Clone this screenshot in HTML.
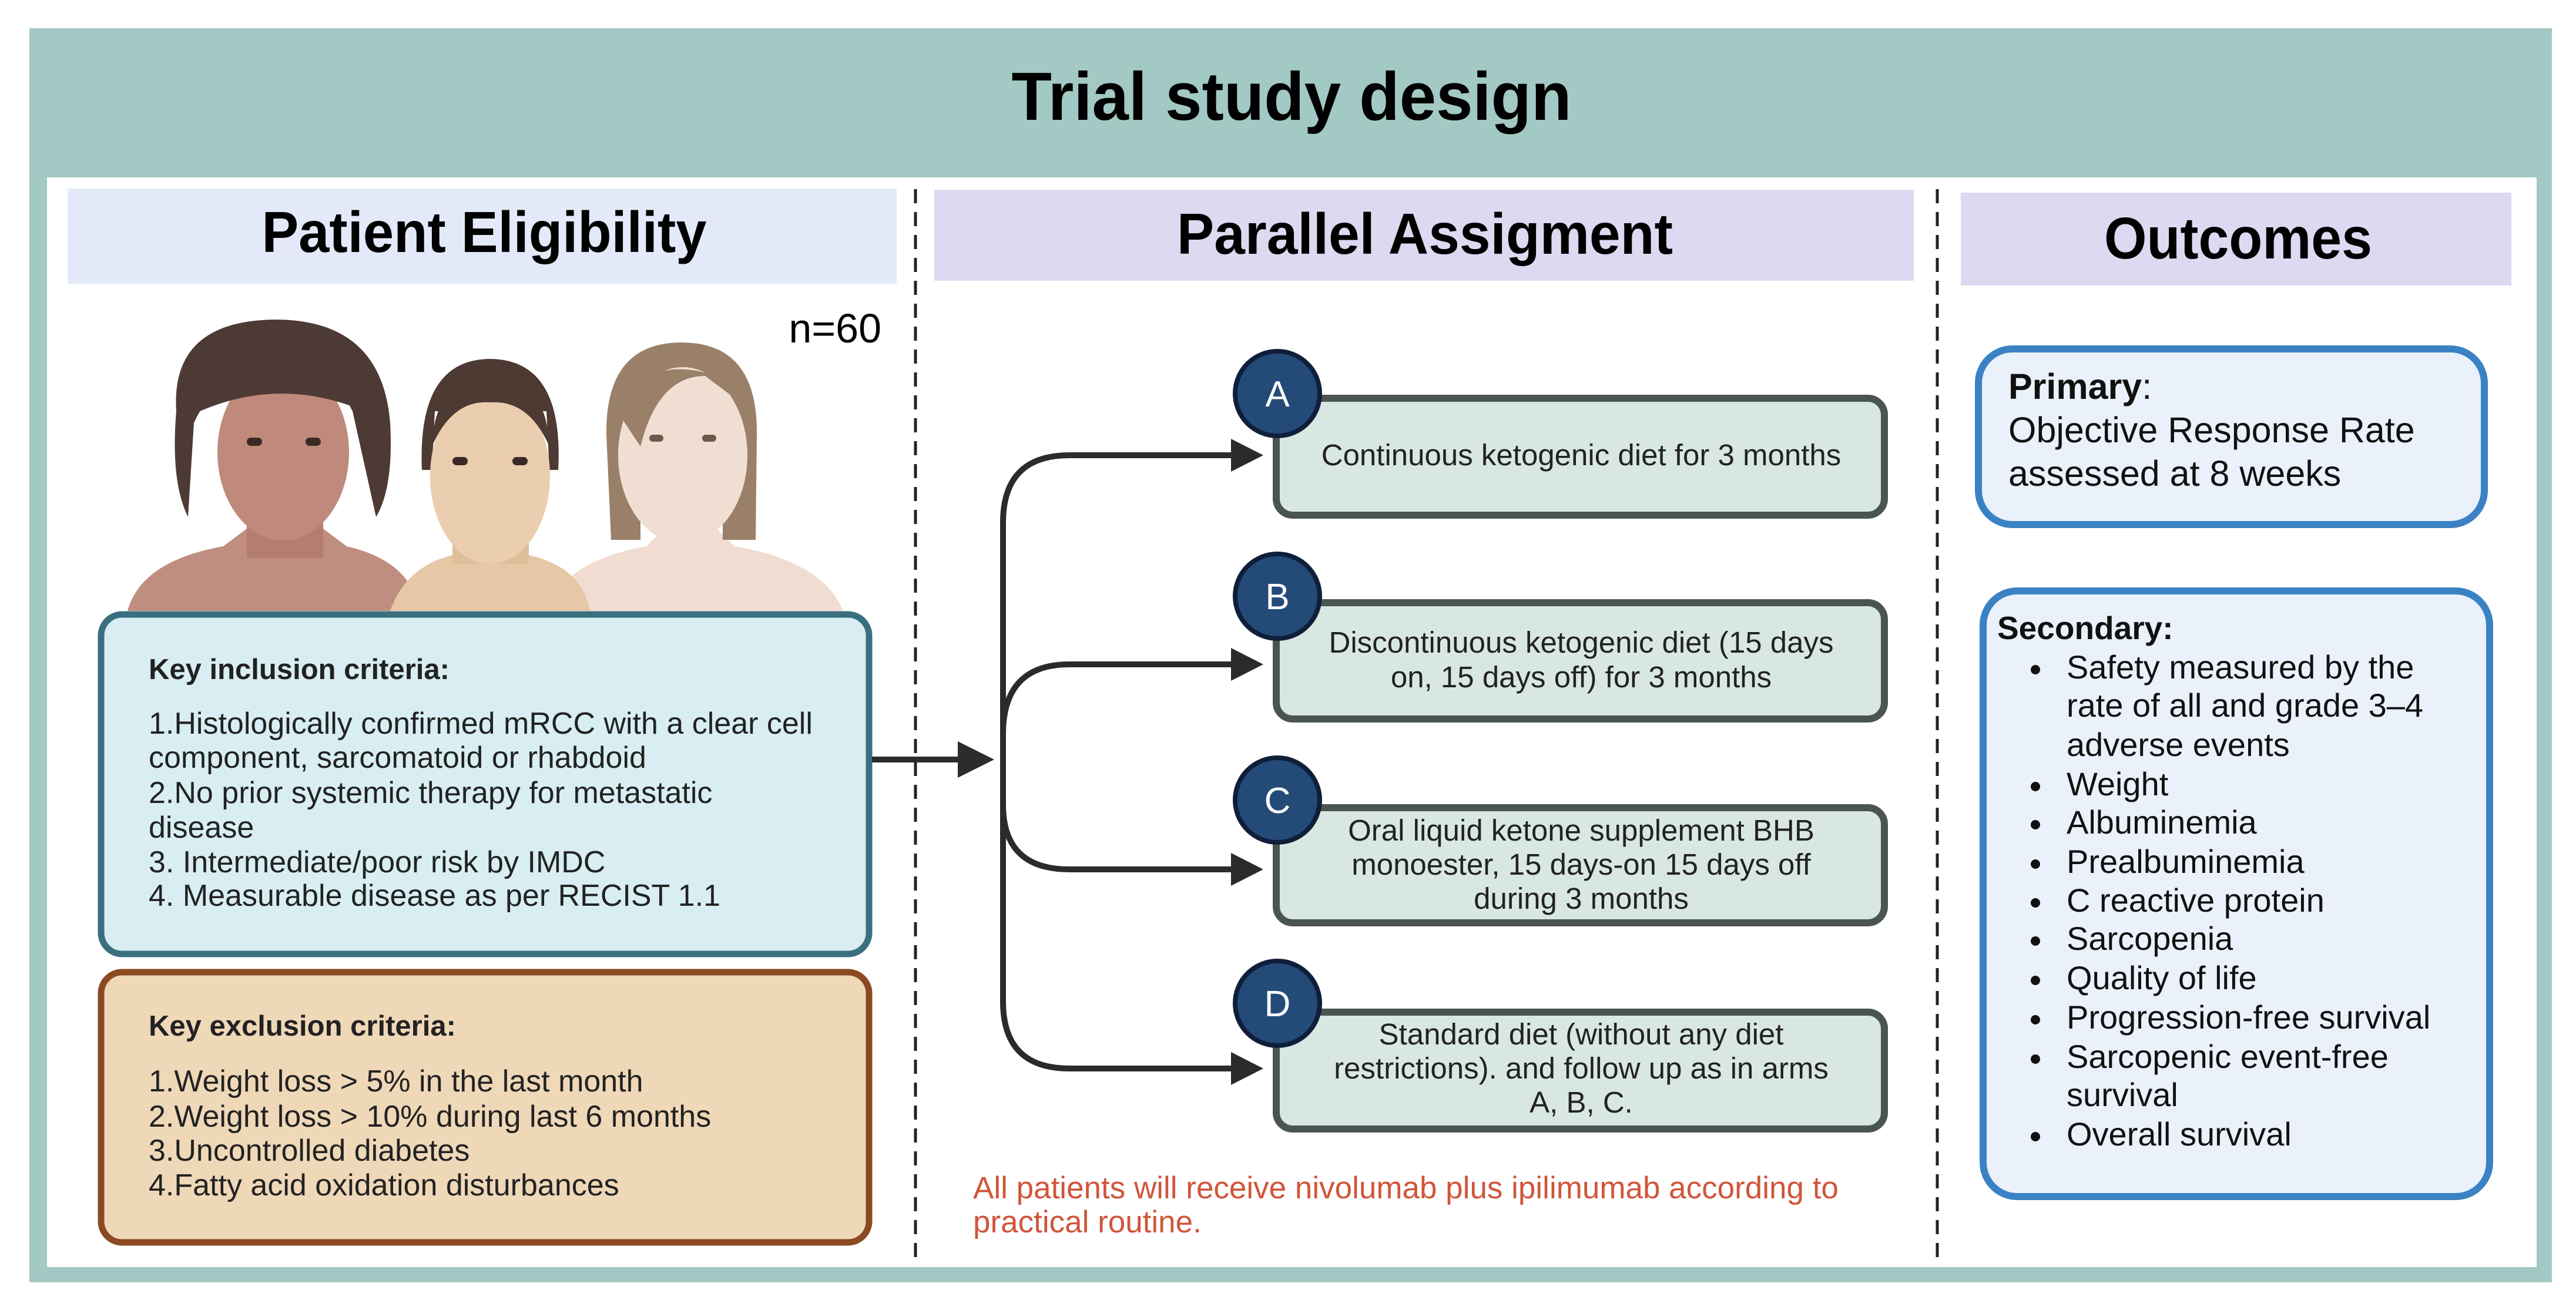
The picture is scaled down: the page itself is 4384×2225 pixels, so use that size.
<!DOCTYPE html>
<html><head><meta charset="utf-8"><style>
html,body{margin:0;padding:0;background:#fff;}
svg{display:block;}
text{font-family:"Liberation Sans",Arial,sans-serif;}
</style></head><body>
<svg width="4384" height="2225" viewBox="0 0 4384 2225" xmlns="http://www.w3.org/2000/svg">
<rect x="0" y="0" width="4384" height="2225" fill="#fff"/>
<!-- frame -->
<rect x="50" y="48" width="4293" height="2135" fill="#a2c9c3"/>
<rect x="80" y="302" width="4237" height="1855" fill="#fff"/>
<text x="2198" y="204" font-size="116" font-weight="bold" text-anchor="middle" textLength="953" lengthAdjust="spacingAndGlyphs" fill="#000">Trial study design</text>

<!-- headers -->
<rect x="115" y="321" width="1411" height="162" fill="#e3e9f8"/>
<text x="824" y="429" font-size="98" font-weight="bold" text-anchor="middle" textLength="757" lengthAdjust="spacingAndGlyphs" fill="#000">Patient Eligibility</text>
<rect x="1590" y="323" width="1667" height="155" fill="#dcdaf1"/>
<text x="2425" y="432" font-size="98" font-weight="bold" text-anchor="middle" textLength="844" lengthAdjust="spacingAndGlyphs" fill="#000">Parallel Assigment</text>
<rect x="3337" y="328" width="937" height="158" fill="#dcdaf1"/>
<text x="3809" y="440" font-size="100" font-weight="bold" text-anchor="middle" textLength="456" lengthAdjust="spacingAndGlyphs" fill="#000">Outcomes</text>

<!-- dashed dividers -->
<line x1="1558" y1="322" x2="1558" y2="2145" stroke="#222" stroke-width="5" stroke-dasharray="24,15"/>
<line x1="3297" y1="322" x2="3297" y2="2145" stroke="#222" stroke-width="5" stroke-dasharray="24,15"/>

<text x="1500" y="583" font-size="70" text-anchor="end" fill="#000">n=60</text>

<!-- faces: person 1 -->
<g>
<path d="M217 1040 Q240 955 380 930 L420 900 L550 900 L590 930 Q700 955 714 1040 Z" fill="#c08e80"/>
<rect x="420" y="840" width="130" height="110" fill="#b47d6f"/>
<path d="M300 700 Q290 545 470 544 Q650 545 664 720 Q670 830 640 880 L600 700 Q560 620 470 625 Q370 630 330 720 L320 880 Q290 820 300 700 Z" fill="#4e3a35"/>
<ellipse cx="482" cy="770" rx="112" ry="150" fill="#bf8a7b"/>
<path d="M330 640 Q470 560 630 640 L620 700 Q480 640 340 700 Z" fill="#4e3a35"/>
<rect x="420" y="745" width="26" height="14" rx="7" fill="#3a2a25"/>
<rect x="520" y="745" width="26" height="14" rx="7" fill="#3a2a25"/>
</g>
<!-- person 3 -->
<g>
<path d="M930 1040 Q960 955 1100 930 L1130 900 L1220 900 L1250 930 Q1400 955 1435 1040 Z" fill="#f0dcd0"/>
<path d="M1032 740 Q1030 583 1160 583 Q1290 583 1288 740 L1286 919 L1230 919 L1230 700 L1090 700 L1090 919 L1040 919 Z" fill="#9a8068"/>
<ellipse cx="1162" cy="775" rx="110" ry="150" fill="#f1ded3"/>
<path d="M1050 700 Q1100 600 1220 640 L1280 700 L1200 640 Q1120 640 1090 760 Z" fill="#9a8068"/>
<rect x="1105" y="740" width="24" height="12" rx="6" fill="#6e5a4d"/>
<rect x="1195" y="740" width="24" height="12" rx="6" fill="#6e5a4d"/>
</g>
<!-- person 2 -->
<g>
<path d="M664 1040 Q690 965 770 945 L780 900 L890 900 L900 945 Q990 965 1004 1040 Z" fill="#e6c7a6"/>
<rect x="770" y="860" width="130" height="100" fill="#dfbe9c"/>
<path d="M718 800 Q710 612 834 611 Q960 612 950 800 L935 800 L930 700 L740 700 L735 800 Z" fill="#4c3a33"/>
<ellipse cx="834" cy="810" rx="102" ry="150" fill="#ebcdaf"/>
<path d="M735 760 Q740 640 834 650 Q930 640 935 760 Q900 680 834 685 Q770 680 735 760 Z" fill="#4c3a33"/>
<rect x="770" y="778" width="26" height="14" rx="7" fill="#3a2a25"/>
<rect x="872" y="778" width="26" height="14" rx="7" fill="#3a2a25"/>
</g>

<!-- inclusion box -->
<rect x="172" y="1046" width="1307" height="578" rx="36" fill="#d8eef3" stroke="#3a6f80" stroke-width="11"/>
<g font-size="52" fill="#222">
<text x="253" y="1156" font-weight="bold" font-size="49">Key inclusion criteria:</text>
<text x="253" y="1249">1.Histologically confirmed mRCC with a clear cell</text>
<text x="253" y="1307">component, sarcomatoid or rhabdoid</text>
<text x="253" y="1367">2.No prior systemic therapy for metastatic</text>
<text x="253" y="1426">disease</text>
<text x="253" y="1485">3. Intermediate/poor risk by IMDC</text>
<text x="253" y="1542">4. Measurable disease as per RECIST 1.1</text>
</g>
<!-- exclusion box -->
<rect x="172" y="1655" width="1307" height="460" rx="36" fill="#efd8b8" stroke="#8b4a22" stroke-width="11"/>
<g font-size="52" fill="#222">
<text x="253" y="1763" font-weight="bold" font-size="49">Key exclusion criteria:</text>
<text x="253" y="1858">1.Weight loss &gt; 5% in the last month</text>
<text x="253" y="1918">2.Weight loss &gt; 10% during last 6 months</text>
<text x="253" y="1976">3.Uncontrolled diabetes</text>
<text x="253" y="2035">4.Fatty acid oxidation disturbances</text>
</g>

<!-- connectors -->
<g fill="none" stroke="#2b2b2b" stroke-width="10">
<path d="M1484 1293 H1650"/>
<path d="M2100 775 H1820 Q1707 775 1707 890 V1705 Q1707 1819 1820 1819 H2100"/>
<path d="M1707 1250 Q1707 1131 1820 1131 H2100"/>
<path d="M1707 1370 Q1707 1480 1820 1480 H2100"/>
</g>
<g fill="#2b2b2b">
<polygon points="1630,1262 1692,1293 1630,1324"/>
<polygon points="2095,747 2150,775 2095,803"/>
<polygon points="2095,1103 2150,1131 2095,1159"/>
<polygon points="2095,1452 2150,1480 2095,1508"/>
<polygon points="2095,1791 2150,1819 2095,1847"/>
</g>

<!-- arm boxes -->
<g fill="#d9e7e3" stroke="#4a5550" stroke-width="12">
<rect x="2172" y="678" width="1035" height="199" rx="28"/>
<rect x="2172" y="1026" width="1035" height="198" rx="28"/>
<rect x="2172" y="1375" width="1035" height="196" rx="28"/>
<rect x="2172" y="1723" width="1035" height="199" rx="28"/>
</g>
<g font-size="51" fill="#222" text-anchor="middle">
<text x="2691" y="792">Continuous ketogenic diet for 3 months</text>
<text x="2691" y="1111">Discontinuous ketogenic diet (15 days</text>
<text x="2691" y="1170">on, 15 days off) for 3 months</text>
<text x="2691" y="1431">Oral liquid ketone supplement BHB</text>
<text x="2691" y="1489">monoester, 15 days-on 15 days off</text>
<text x="2691" y="1547">during 3 months</text>
<text x="2691" y="1778">Standard diet (without any diet</text>
<text x="2691" y="1836">restrictions). and follow up as in arms</text>
<text x="2691" y="1894">A, B, C.</text>
</g>
<g fill="#244a78" stroke="#0f1f3a" stroke-width="8">
<circle cx="2174" cy="670" r="72"/>
<circle cx="2174" cy="1015" r="72"/>
<circle cx="2174" cy="1362" r="72"/>
<circle cx="2174" cy="1708" r="72"/>
</g>
<g font-size="62" fill="#fff" text-anchor="middle">
<text x="2174" y="692">A</text>
<text x="2174" y="1037">B</text>
<text x="2174" y="1384">C</text>
<text x="2174" y="1730">D</text>
</g>

<text x="1656" y="2040" font-size="53" fill="#d0553a">All patients will receive nivolumab plus ipilimumab according to</text>
<text x="1656" y="2098" font-size="53" fill="#d0553a">practical routine.</text>

<!-- outcomes -->
<rect x="3367" y="594" width="861" height="299" rx="58" fill="#eaf1fa" stroke="#3b82c4" stroke-width="12"/>
<text x="3418" y="679" font-size="61" fill="#111"><tspan font-weight="bold">Primary</tspan>:</text>
<text x="3418" y="753" font-size="61" fill="#111">Objective Response Rate</text>
<text x="3418" y="827" font-size="61" fill="#111">assessed at 8 weeks</text>

<rect x="3375" y="1006" width="862" height="1031" rx="58" fill="#eaf1fa" stroke="#3b82c4" stroke-width="12"/>
<text x="3399" y="1088" font-size="55" font-weight="bold" fill="#111">Secondary:</text>
<g font-size="56" fill="#111">
<text x="3517" y="1155">Safety measured by the</text>
<text x="3517" y="1220">rate of all and grade 3–4</text>
<text x="3517" y="1287">adverse events</text>
<text x="3517" y="1354">Weight</text>
<text x="3517" y="1419">Albuminemia</text>
<text x="3517" y="1486">Prealbuminemia</text>
<text x="3517" y="1552">C reactive protein</text>
<text x="3517" y="1617">Sarcopenia</text>
<text x="3517" y="1684">Quality of life</text>
<text x="3517" y="1751">Progression-free survival</text>
<text x="3517" y="1818">Sarcopenic event-free</text>
<text x="3517" y="1883">survival</text>
<text x="3517" y="1950">Overall survival</text>
</g>
<g fill="#111">
<circle cx="3464" cy="1140" r="8"/>
<circle cx="3464" cy="1339" r="8"/>
<circle cx="3464" cy="1404" r="8"/>
<circle cx="3464" cy="1471" r="8"/>
<circle cx="3464" cy="1537" r="8"/>
<circle cx="3464" cy="1602" r="8"/>
<circle cx="3464" cy="1669" r="8"/>
<circle cx="3464" cy="1736" r="8"/>
<circle cx="3464" cy="1803" r="8"/>
<circle cx="3464" cy="1935" r="8"/>
</g>
</svg>
</body></html>
